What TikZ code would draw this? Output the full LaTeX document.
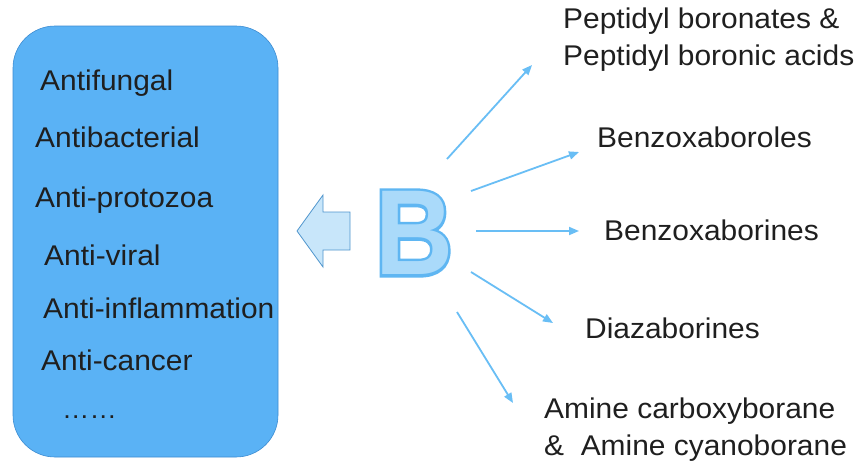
\documentclass[tikz,border=0pt]{standalone}
\usepackage{fontspec}
\setmainfont{Liberation Sans}[FakeStretch=1.05]
\usetikzlibrary{arrows.meta}
\definecolor{boxblue}{RGB}{90,178,245}
\definecolor{boxedge}{RGB}{60,140,210}
\definecolor{arrblue}{RGB}{105,190,245}
\definecolor{bouter}{RGB}{95,182,242}
\definecolor{binner}{RGB}{170,218,250}
\definecolor{hollowfill}{RGB}{200,230,250}
\definecolor{hollowedge}{RGB}{80,150,205}
\newcommand{\bigBglyph}{\scalebox{0.85}[1]{\fontsize{121}{121}\selectfont\bfseries B}}
\tikzset{
  item/.style={anchor=base west, inner sep=0pt, font=\fontsize{28.5}{34}\selectfont, text=black!88},
  conn/.style={draw=arrblue, line width=1.8pt, -{Triangle[length=10pt,width=8pt]}},
}
\begin{document}
\begin{tikzpicture}[x=1pt,y=-1pt]
\useasboundingbox (0,0) rectangle (856,464);
\fill[white] (0,0) rectangle (856,464);
% left box
\draw[fill=boxblue, draw=boxedge, line width=0.6pt, rounded corners=42pt] (13,26) rectangle (278,457);
\node[item] (t1) at (40,90) {Antifungal};
\node[item] (t2) at (35,147) {Antibacterial};
\node[item] (t3) at (35,207) {Anti-protozoa};
\node[item] (t4) at (44,265) {Anti-viral};
\node[item] (t5) at (43,318) {Anti-inflammation};
\node[item] (t6) at (41,370) {Anti-cancer};
\node[item] (t7) at (62,418) {\fontsize{26}{30}\selectfont ……};
% hollow arrow
\draw[fill=hollowfill, draw=hollowedge, line width=0.8pt, line join=miter]
  (297,231) -- (323,195) -- (323,212) -- (350,212) -- (350,250) -- (323,250) -- (323,267) -- cycle;
% big B: outlined letter
\node[inner sep=0pt, text=binner] (B) at (414,233)
  {\rlap{\color{bouter}\special{pdf:literal direct 2 Tr 6 w}\bigBglyph\special{pdf:literal direct 0 Tr 1 w}}\bigBglyph};
% right labels
\node[item] (r1a) at (563,28) {Peptidyl boronates \&};
\node[item] (r1b) at (563,65) {Peptidyl boronic acids};
\node[item] (r2) at (597,147) {Benzoxaboroles};
\node[item] (r3) at (604,240) {Benzoxaborines};
\node[item] (r4) at (585,338) {Diazaborines};
\node[item] (r5a) at (544,418) {Amine carboxyborane};
\node[item] (r5b) at (544,455) {\&\ \ Amine cyanoborane};
% arrow endpoints
\coordinate (s1) at (447,159); \coordinate (e1) at (532,65);
\coordinate (s2) at (471,191); \coordinate (e2) at (579,152);
\coordinate (s3) at (476,231); \coordinate (e3) at (579,231);
\coordinate (s4) at (471,272); \coordinate (e4) at (553,323);
\coordinate (s5) at (457,312); \coordinate (e5) at (513,403);
\draw[conn] (s1) -- (e1);
\draw[conn] (s2) -- (e2);
\draw[conn] (s3) -- (e3);
\draw[conn] (s4) -- (e4);
\draw[conn] (s5) -- (e5);
\end{tikzpicture}
\end{document}
